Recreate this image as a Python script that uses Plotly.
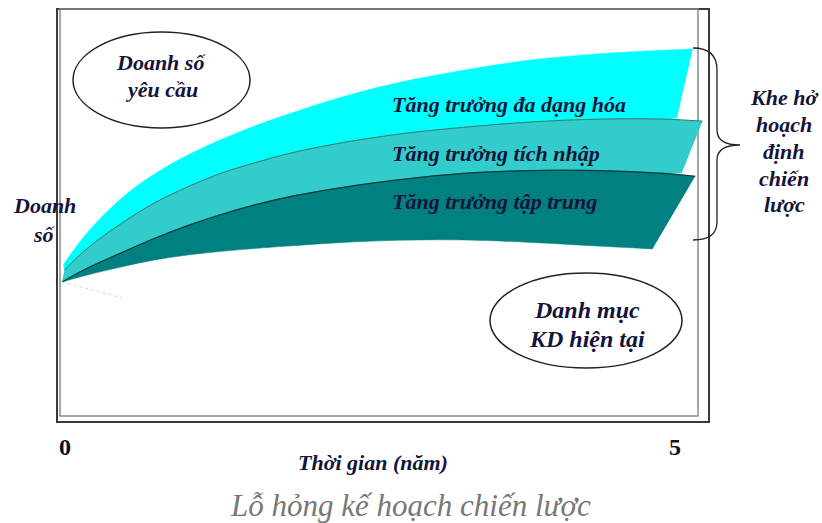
import plotly.graph_objects as go

# ---- data (years on x, relative sales "Doanh số" on y, 0-100 scale) ----
cyan_top_x = [0.01, 0.21, 0.49, 0.76, 1.03, 1.31, 1.62, 1.91, 2.20, 2.75, 3.29, 3.84, 4.39, 4.93, 5.17]
cyan_top_y = [37.3, 45.3, 53.7, 59.6, 64.2, 68.1, 71.8, 74.8, 77.6, 81.9, 85.0, 87.5, 89.0, 89.9, 90.2]
cyan_corner = (5.04, 73.3)

mid_top_x = [0.02, 0.21, 0.49, 0.76, 1.03, 1.31, 1.58, 1.85, 2.20, 2.75, 3.29, 3.84, 4.39, 4.93, 5.25]
mid_top_y = [36.0, 41.4, 47.5, 52.5, 56.4, 59.8, 62.3, 64.5, 66.7, 69.3, 71.0, 72.3, 73.0, 73.0, 72.5]
mid_corner = (5.08, 59.8)

dark_top_x = [0.00, 0.21, 0.49, 0.76, 1.03, 1.31, 1.58, 1.85, 2.20, 2.75, 3.29, 3.84, 4.39, 4.93, 5.19]
dark_top_y = [33.1, 36.5, 40.3, 43.8, 46.9, 49.7, 52.0, 53.9, 55.8, 58.1, 59.7, 60.4, 60.4, 59.7, 59.0]
dark_corner = (4.84, 41.2)

dark_bot_x = [0.00, 0.21, 0.49, 0.76, 1.03, 1.31, 1.58, 1.85, 2.20, 2.75, 3.29, 3.84, 4.39, 4.84]
dark_bot_y = [33.1, 34.8, 36.8, 38.5, 39.7, 40.6, 41.3, 41.9, 42.6, 43.3, 43.4, 42.8, 41.9, 41.2]

faint_x = [0.00, 0.49]
faint_y = [33.1, 29.2]

band_labels = ["Tăng trưởng đa dạng hóa", "Tăng trưởng tích nhập", "Tăng trưởng tập trung"]
band_label_x = [2.69, 2.69, 2.69]
band_label_y = [76.5, 64.7, 52.7]

tick_vals = [0, 5]
tick_text = ["0", "5"]

# ---- styles ----
C_CYAN = "#00FFFF"
C_MID = "#33CCCC"
C_DARK = "#008080"
TXT = "#14143a"
FONT = "Liberation Serif"


def lower_edge(low_x, low_y, corner):
    xs = [x for x in low_x if x < corner[0]] + [corner[0]]
    ys = [y for x, y in zip(low_x, low_y) if x < corner[0]] + [corner[1]]
    return xs, ys


fig = go.Figure()

bands = [
    (lower_edge(mid_top_x, mid_top_y, cyan_corner), (cyan_top_x, cyan_top_y), C_CYAN),
    (lower_edge(dark_top_x, dark_top_y, mid_corner), (mid_top_x, mid_top_y), C_MID),
    ((dark_bot_x, dark_bot_y), (dark_top_x, dark_top_y), C_DARK),
]
for (lx, ly), (ux, uy), col in bands:
    fig.add_trace(go.Scatter(x=lx, y=ly, mode="lines", line=dict(color=col, width=0.5, shape="spline"),
                             hoverinfo="skip", showlegend=False))
    fig.add_trace(go.Scatter(x=ux, y=uy, mode="lines", fill="tonexty", fillcolor=col,
                             line=dict(color=col, width=0.5, shape="spline"),
                             hoverinfo="skip", showlegend=False))

fig.add_trace(go.Scatter(x=mid_top_x, y=mid_top_y, mode="lines",
                         line=dict(color="#2f7d63", width=1, shape="spline"), showlegend=False))
fig.add_trace(go.Scatter(x=dark_top_x, y=dark_top_y, mode="lines",
                         line=dict(color="#0b3b32", width=1.2, shape="spline"), showlegend=False))
fig.add_trace(go.Scatter(x=faint_x, y=faint_y, mode="lines",
                         line=dict(color="#b5e3e3", width=1, dash="dot"), showlegend=False))

L, R, T, B = 58, 710, 9, 417
W, H = R - L, B - T


def px(x):
    return (x - L) / W


def py(y):
    return (B - y) / H


shapes = []
shapes.append(dict(type="rect", xref="paper", yref="paper", x0=px(57), x1=px(709), y0=py(422), y1=py(9),
                   line=dict(color="#3a3a3a", width=2), layer="below"))
shapes.append(dict(type="rect", xref="paper", yref="paper", x0=px(60), x1=px(698), y0=py(416), y1=py(9),
                   line=dict(color="#8a8a8a", width=1.5), layer="below"))
shapes.append(dict(type="circle", xref="paper", yref="paper", x0=px(73), x1=px(250), y0=py(128), y1=py(32),
                   line=dict(color="#222", width=1.5)))
shapes.append(dict(type="circle", xref="paper", yref="paper", x0=px(490), x1=px(682), y0=py(368), y1=py(273),
                   line=dict(color="#222", width=1.5)))
pts = [("M", [(693, 48)]), ("C", [(708, 48), (717, 55), (717, 70)]), ("L", [(717, 130)]),
       ("C", [(717, 140), (725, 145), (740, 145)]), ("C", [(725, 145), (717, 150), (717, 160)]),
       ("L", [(717, 222)]), ("C", [(717, 235), (708, 240), (693, 240)])]
path = " ".join(cmd + " " + " ".join(f"{px(a):.4f},{py(b):.4f}" for a, b in p) for cmd, p in pts)
shapes.append(dict(type="path", xref="paper", yref="paper", path=path, line=dict(color="#222", width=1.3)))

ann = []


def text(x, y, s, size, xref="paper", yref="paper", color=TXT, xanchor="center", family=FONT):
    ann.append(dict(x=x, y=y, xref=xref, yref=yref, text=s, showarrow=False, xanchor=xanchor,
                    yanchor="middle", font=dict(family=family, size=size, color=color)))


def lines(xc, ys, strs, size):
    for yy, s in zip(ys, strs):
        text(px(xc), py(yy), "<b><i>" + s + "</i></b>", size)


lines(161, [63, 90], ["Doanh số", "yêu cầu"], 22)
lines(587, [310, 339], ["Danh mục", "KD hiện tại"], 24)
lines(44, [206, 234], ["Doanh", "số"], 22)
lines(784, [97, 124, 151, 178, 205], ["Khe hở", "hoạch", "định", "chiến", "lược"], 22)
for s, x, y in zip(band_labels, band_label_x, band_label_y):
    text(x, y, "<b><i>" + s + "</i></b>", 22, xref="x", yref="y", xanchor="left")
text(px(373), py(462), "<b><i>Thời gian (năm)</i></b>", 22)
text(px(410), py(505), "<i>Lỗ hỏng kế hoạch chiến lược</i>", 31, color="#777777")

fig.update_layout(
    width=822, height=523,
    margin=dict(l=L, r=822 - R, t=T, b=523 - B),
    paper_bgcolor="white", plot_bgcolor="white",
    shapes=shapes, annotations=ann, showlegend=False,
    xaxis=dict(range=[(L - 62) / 122, (R - 62) / 122], tickvals=tick_vals, ticktext=tick_text,
               ticks="outside", ticklen=8, tickcolor="rgba(0,0,0,0)", showgrid=False, zeroline=False,
               showline=False, ticklabelshift=3,
               tickfont=dict(family=FONT, size=24, color="#111", weight="bold")),
    yaxis=dict(range=[0, 100], visible=False),
)

fig.write_html("out.html")
